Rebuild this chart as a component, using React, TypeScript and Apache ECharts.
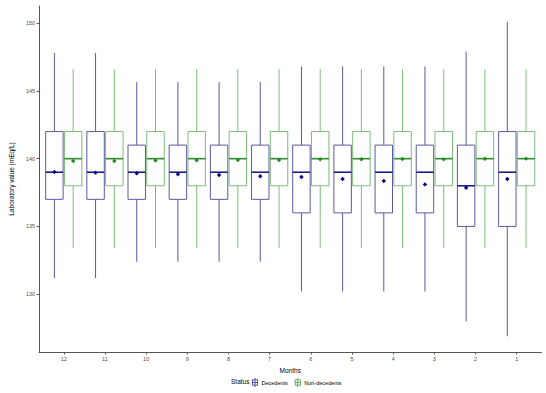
import React, { useEffect, useRef } from "react";
import * as echarts from "echarts";

const months = ["12", "11", "10", "9", "8", "7", "6", "5", "4", "3", "2", "1"];
const yTicks = [130, 135, 140, 145, 150];

const decMin = [131.2, 131.2, 132.4, 132.4, 132.4, 132.4, 130.2, 130.2, 130.2, 130.2, 128.0, 126.9];
const decQ1 = [137, 137, 137, 137, 137, 137, 136, 136, 136, 136, 135, 135];
const decMed = [139, 139, 139, 139, 139, 139, 139, 139, 139, 139, 138, 139];
const decQ3 = [142, 142, 141, 141, 141, 141, 141, 141, 141, 141, 141, 142];
const decMax = [147.8, 147.8, 145.65, 145.65, 145.65, 145.65, 146.8, 146.8, 146.8, 146.8, 147.9, 150.1];
const decMean = [139.02, 138.97, 138.92, 138.85, 138.8, 138.7, 138.65, 138.5, 138.35, 138.1, 137.85, 138.5];

const nonMin = [133.4, 133.4, 133.4, 133.4, 133.4, 133.4, 133.4, 133.4, 133.4, 133.4, 133.4, 133.4];
const nonQ1 = [138, 138, 138, 138, 138, 138, 138, 138, 138, 138, 138, 138];
const nonMed = [140, 140, 140, 140, 140, 140, 140, 140, 140, 140, 140, 140];
const nonQ3 = [142, 142, 142, 142, 142, 142, 142, 142, 142, 142, 142, 142];
const nonMax = [146.6, 146.6, 146.6, 146.6, 146.6, 146.6, 146.6, 146.6, 146.6, 146.6, 146.6, 146.6];
const nonMean = [139.83, 139.83, 139.87, 139.88, 139.9, 139.9, 139.95, 139.96, 139.97, 139.95, 139.99, 140.0];

const DODGE = 0.228;
const HALF_W = 0.212;
const FONT = "Liberation Sans, Arial, sans-serif";

const ICON =
  "path://M4.5,0 H5.5 V2 H9 V10 H5.5 V12 H4.5 V10 H1 V2 H4.5 Z M2,3 V5.5 H4.5 V3 Z M5.5,3 V5.5 H8 V3 Z M2,6.5 V9 H4.5 V6.5 Z M5.5,6.5 V9 H8 V6.5 Z";

function build(mins: number[], q1: number[], med: number[], q3: number[], max: number[], mean: number[], off: number) {
  return months.map((_, i) => [i + 1 + off, mins[i], q1[i], med[i], q3[i], max[i], mean[i]]);
}

function makeRender(lineColor: string, medColor: string, meanColor: string) {
  return (params: any, api: any) => {
    const x = api.value(0);
    const pMin = api.coord([x, api.value(1)]);
    const pQ1 = api.coord([x, api.value(2)]);
    const pMed = api.coord([x, api.value(3)]);
    const pQ3 = api.coord([x, api.value(4)]);
    const pMax = api.coord([x, api.value(5)]);
    const pMean = api.coord([x, api.value(6)]);
    const hw = api.size([HALF_W, 0])[0];
    const cx = pMed[0];
    const s = 2.2;
    return {
      type: "group",
      children: [
        { type: "line", shape: { x1: cx, y1: pMax[1], x2: cx, y2: pQ3[1] }, style: { stroke: lineColor, lineWidth: 1 } },
        { type: "line", shape: { x1: cx, y1: pQ1[1], x2: cx, y2: pMin[1] }, style: { stroke: lineColor, lineWidth: 1 } },
        {
          type: "rect",
          shape: { x: cx - hw, y: pQ3[1], width: 2 * hw, height: pQ1[1] - pQ3[1] },
          style: { fill: "#ffffff", stroke: lineColor, lineWidth: 1 },
        },
        { type: "line", shape: { x1: cx - hw, y1: pMed[1], x2: cx + hw, y2: pMed[1] }, style: { stroke: medColor, lineWidth: 1.6 } },
        {
          type: "polygon",
          shape: {
            points: [
              [pMean[0], pMean[1] - s],
              [pMean[0] + s, pMean[1]],
              [pMean[0], pMean[1] + s],
              [pMean[0] - s, pMean[1]],
            ],
          },
          style: { fill: meanColor },
        },
      ],
    };
  };
}

export default function App() {
  const ref = useRef<HTMLDivElement>(null);
  useEffect(() => {
    if (!ref.current) return;
    const chart = echarts.init(ref.current, null, { renderer: "svg" });
    const tickIdx = months.map((_, i) => i + 1);
    chart.setOption({
      animation: false,
      backgroundColor: "#ffffff",
      textStyle: { fontFamily: FONT },
      grid: { left: 25.3, right: 4.6, top: 6, bottom: 41 },
      title: {
        text: "Status",
        left: 231,
        top: 378,
        textStyle: { fontSize: 6.5, fontWeight: "normal", color: "#000", fontFamily: FONT },
        padding: 0,
      },
      legend: {
        left: 252,
        top: 378,
        padding: 0,
        itemWidth: 7,
        itemHeight: 9,
        itemGap: 7,
        textStyle: { fontSize: 5.5, color: "#000", fontFamily: FONT, padding: [0, 0, 0, -2] },
        data: [
          { name: "Decedents", icon: ICON, itemStyle: { color: "#2a2a8c" } },
          { name: "Non-decedents", icon: ICON, itemStyle: { color: "#3a9a3a" } },
        ],
      },
      xAxis: {
        type: "value",
        min: 0.4,
        max: 12.6,
        name: "Months",
        nameLocation: "middle",
        nameGap: 7,
        nameTextStyle: { fontSize: 6.5, color: "#000", fontFamily: FONT },
        splitLine: { show: false },
        axisLine: { show: true, lineStyle: { color: "#555555", width: 1 } },
        axisTick: { show: true, length: 2.5, customValues: tickIdx, lineStyle: { color: "#555555" } },
        axisLabel: {
          customValues: tickIdx,
          fontSize: 5.5,
          color: "#4d4d4d",
          margin: 4,
          formatter: (v: number) => months[Math.round(v) - 1] ?? "",
        },
      },
      yAxis: {
        type: "value",
        min: 125.74,
        max: 151.26,
        name: "Laboratory value (mEq/L)",
        nameLocation: "middle",
        nameGap: 14,
        nameTextStyle: { fontSize: 6.5, color: "#000", fontFamily: FONT },
        splitLine: { show: false },
        axisLine: { show: true, lineStyle: { color: "#555555", width: 1 } },
        axisTick: { show: true, length: 2.5, customValues: yTicks, lineStyle: { color: "#555555" } },
        axisLabel: { customValues: yTicks, fontSize: 5.5, color: "#4d4d4d", margin: 4 },
      },
      series: [
        {
          name: "Decedents",
          type: "custom",
          itemStyle: { color: "#2a2a8c" },
          encode: { x: 0, y: [1, 2, 3, 4, 5, 6] },
          renderItem: makeRender("#5a5a9e", "#1c1c80", "#000080"),
          data: build(decMin, decQ1, decMed, decQ3, decMax, decMean, -DODGE),
        },
        {
          name: "Non-decedents",
          type: "custom",
          itemStyle: { color: "#3a9a3a" },
          encode: { x: 0, y: [1, 2, 3, 4, 5, 6] },
          renderItem: makeRender("#7cbc7c", "#2e8b2e", "#228b22"),
          data: build(nonMin, nonQ1, nonMed, nonQ3, nonMax, nonMean, DODGE),
        },
      ],
    });
    return () => chart.dispose();
  }, []);
  return <div ref={ref} style={{ width: 546, height: 393, position: "absolute", left: 0, top: 0 }} />;
}
